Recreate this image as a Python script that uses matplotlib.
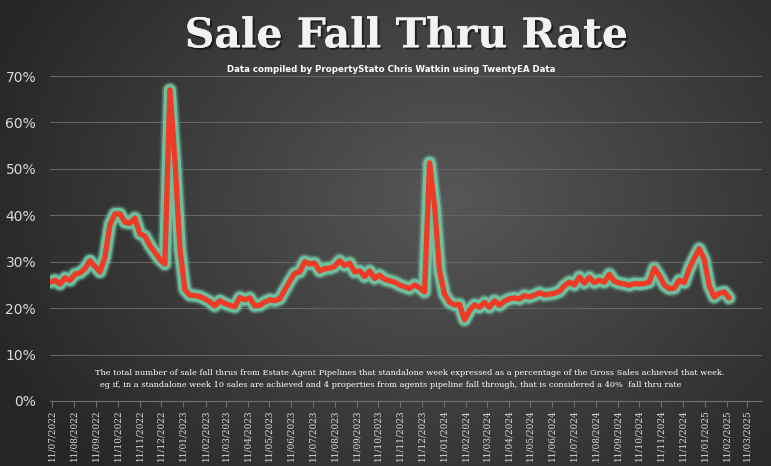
import numpy as np
import pandas as pd
import matplotlib
matplotlib.use("Agg")
import matplotlib.pyplot as plt
import matplotlib.dates as mdates
import matplotlib.patheffects as pe
from matplotlib.ticker import FuncFormatter, MultipleLocator

# weekly sale fall thru rate, %
weeks = pd.date_range("2022-07-08", periods=137, freq="7D")
rate = [25.6, 26.0, 25.2, 26.5, 26.0, 27.3, 27.6, 28.5, 30.2, 29.0,
        27.8, 31.0, 38.0, 40.3, 40.3, 38.5, 38.3, 39.4, 36.0, 35.5,
        33.5, 32.0, 30.5, 29.5, 67.0, 52.0, 33.0, 24.0, 22.8, 22.7,
        22.5, 22.0, 21.4, 20.5, 21.6, 21.0, 20.6, 20.3, 22.3, 21.8,
        22.2, 20.5, 20.6, 21.3, 21.8, 21.6, 22.0, 23.9, 25.8, 27.5,
        27.8, 30.0, 29.5, 29.7, 28.0, 28.5, 28.6, 29.0, 30.2, 29.2,
        29.7, 27.8, 28.0, 26.8, 28.0, 26.4, 27.1, 26.2, 25.9, 25.6,
        25.0, 24.6, 24.2, 25.0, 24.4, 23.5, 51.3, 42.0, 28.0, 23.0,
        21.3, 20.7, 20.8, 17.5, 19.5, 20.7, 20.2, 21.2, 20.2, 21.6,
        20.6, 21.5, 22.0, 22.2, 22.0, 22.7, 22.4, 22.8, 23.3, 22.9,
        23.0, 23.2, 23.6, 24.8, 25.6, 25.0, 26.7, 25.4, 26.6, 25.5,
        26.0, 25.6, 27.3, 25.8, 25.4, 25.2, 24.9, 25.3, 25.2, 25.3,
        25.6, 28.6, 27.0, 25.0, 24.2, 24.3, 26.0, 25.5, 28.5, 30.8,
        32.8, 30.5, 24.8, 22.4, 23.2, 23.5, 22.2]

# axis ticks on the 11th of each month
month_ticks = pd.date_range("2022-07-01", "2025-03-01", freq="MS") + pd.Timedelta(days=10)

title = "Sale Fall Thru Rate"
subtitle = "Data compiled by PropertyStato Chris Watkin using TwentyEA Data"
note1 = ("The total number of sale fall thrus from Estate Agent Pipelines that standalone week "
         "expressed as a percentage of the Gross Sales achieved that week.")
note2 = ("eg if, in a standalone week 10 sales are achieved and 4 properties from agents pipeline "
         "fall through, that is considered a 40%  fall thru rate")

fig = plt.figure(figsize=(7.71, 4.66), dpi=100)

# dark radial background
bg = fig.add_axes([0, 0, 1, 1], zorder=-10)
yy, xx = np.mgrid[0:466, 0:771]
d = np.sqrt(((xx - 450) / 520.0) ** 2 + ((yy - 200) / 420.0) ** 2)
shade = np.clip(0.34 - 0.2 * d, 0.15, 0.34)
bg.imshow(np.dstack([shade] * 3), aspect="auto", extent=[0, 1, 0, 1])
bg.axis("off")

ax = fig.add_axes([50 / 771, 1 - 401 / 466, 712 / 771, 325 / 466])
ax.patch.set_alpha(0)

# glow then red line
for lw, a in [(12.5, 0.15), (10.5, 0.35), (8.5, 0.85)]:
    ax.plot(weeks, rate, color="#74cba8", lw=lw, alpha=a, solid_joinstyle="round",
            solid_capstyle="round")
ax.plot(weeks, rate, color="#ef3a26", lw=3.8, solid_joinstyle="round", solid_capstyle="round")

ax.set_ylim(0, 70)
ax.set_xlim(pd.Timestamp("2022-07-08"), pd.Timestamp("2025-04-01"))
ax.yaxis.set_major_locator(MultipleLocator(10))
ax.yaxis.set_major_formatter(FuncFormatter(lambda v, p: f"{v:.0f}%"))
ax.grid(axis="y", color="#656565", lw=0.8)
ax.set_axisbelow(True)

ax.set_xticks(month_ticks)
ax.xaxis.set_major_formatter(mdates.DateFormatter("%d/%m/%Y"))
plt.setp(ax.get_xticklabels(), rotation=90, fontsize=6.4, family="DejaVu Serif", color="#d9d9d9")
plt.setp(ax.get_yticklabels(), fontsize=10, color="#d9d9d9")
ax.tick_params(axis="x", length=4, color="#707070", pad=2)
ax.tick_params(axis="y", length=0, pad=10)
for s in ["top", "right", "left"]:
    ax.spines[s].set_visible(False)
ax.spines["bottom"].set_color("#707070")

fig.text(0.527, 0.922, title, ha="center", va="center", fontsize=29.5, fontweight="bold",
         family="DejaVu Serif", color="#f2f2f2",
         path_effects=[pe.withSimplePatchShadow(offset=(1.5, -1.5), shadow_rgbFace="black", alpha=0.5),
                       pe.Normal()])
fig.text(391 / 771, 1 - 69 / 466, subtitle, ha="center", va="center", fontsize=6.2,
         family=["Liberation Sans Narrow", "DejaVu Sans"], fontweight="bold", color="white")
fig.text(95 / 771, 1 - 373 / 466, note1, ha="left", va="center", fontsize=5.95,
         family="DejaVu Serif", color="white")
fig.text(100 / 771, 1 - 385 / 466, note2, ha="left", va="center", fontsize=5.95,
         family="DejaVu Serif", color="white")

fig.savefig("out.png", dpi=100)
